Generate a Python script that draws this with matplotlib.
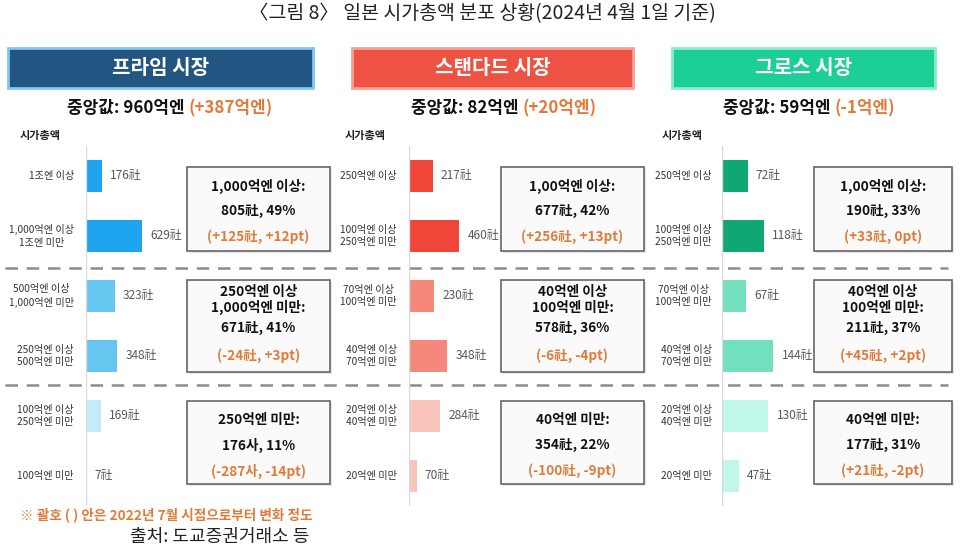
import numpy as np
import matplotlib
matplotlib.use('Agg')
import matplotlib.pyplot as plt
from matplotlib.patches import Rectangle

plt.rcParams['font.family'] = ['Noto Sans CJK KR', 'DejaVu Sans']

# ---- data ----
markets = ['프라임 시장', '스탠다드 시장', '그로스 시장']
medians = ['중앙값: 960억엔 ', '중앙값: 82억엔 ', '중앙값: 59억엔 ']
median_chg = ['(+387억엔)', '(+20억엔)', '(-1억엔)']

prime_cats = ['1조엔 이상', '1,000억엔 이상\n1조엔 미만', '500억엔 이상\n1,000억엔 미만',
              '250억엔 이상\n500억엔 미만', '100억엔 이상\n250억엔 미만', '100억엔 미만']
prime_vals = [176, 629, 323, 348, 169, 7]

std_cats = ['250억엔 이상', '100억엔 이상\n250억엔 미만', '70억엔 이상\n100억엔 미만',
            '40억엔 이상\n70억엔 미만', '20억엔 이상\n40억엔 미만', '20억엔 미만']
std_vals = [217, 460, 230, 348, 284, 70]

growth_cats = ['250억엔 이상', '100억엔 이상\n250억엔 미만', '70억엔 이상\n100억엔 미만',
               '40억엔 이상\n70억엔 미만', '20억엔 이상\n40억엔 미만', '20억엔 미만']
growth_vals = [72, 118, 67, 144, 130, 47]

prime_boxes = [('1,000억엔 이상:', '805社, 49%', '(+125社, +12pt)'),
               ('250억엔 이상\n1,000억엔 미만:', '671社, 41%', '(-24社, +3pt)'),
               ('250억엔 미만:', '176사, 11%', '(-287사, -14pt)')]
std_boxes = [('1,00억엔 이상:', '677社, 42%', '(+256社, +13pt)'),
             ('40억엔 이상\n100억엔 미만:', '578社, 36%', '(-6社, -4pt)'),
             ('40억엔 미만:', '354社, 22%', '(-100社, -9pt)')]
growth_boxes = [('1,00억엔 이상:', '190社, 33%', '(+33社, 0pt)'),
                ('40억엔 이상\n100억엔 미만:', '211社, 37%', '(+45社, +2pt)'),
                ('40억엔 미만:', '177社, 31%', '(+21社, -2pt)')]

W, H = 964, 549
ORANGE = '#E07B39'

fig = plt.figure(figsize=(W / 100, H / 100), dpi=100)
bg = fig.add_axes([0, 0, 1, 1])
bg.set_xlim(0, W)
bg.set_ylim(H, 0)
bg.axis('off')


def px_axes(x0, y0, x1, y1):
    return fig.add_axes([x0 / W, 1 - y1 / H, (x1 - x0) / W, (y1 - y0) / H])


bg.text(482, 14, '〈그림 8〉 일본 시가총액 분포 상황(2024년 4월 1일 기준)', ha='center', va='center',
        fontsize=14, color='#222222')

# panel layout (pixels)
panels = [
    dict(head=(8, 313), head_col='#225581', edge='#7EC8F0', cats=prime_cats, vals=prime_vals,
         bx=86, xmax=1010, lab_x=74, col=['#1EA3EE', '#66C6F0', '#C4EBFA'], boxes=prime_boxes,
         box=(187, 330), sx=20, mx=67),
    dict(head=(352, 633), head_col='#EE5242', edge='#F6A097', cats=std_cats, vals=std_vals,
         bx=409, xmax=827, lab_x=397, col=['#F0463A', '#F4887B', '#F8C4BC'], boxes=std_boxes,
         box=(501, 644), sx=345, mx=411),
    dict(head=(672, 935), head_col='#1BCF97', edge='#8EEBCB', cats=growth_cats, vals=growth_vals,
         bx=722, xmax=253, lab_x=712, col=['#10A774', '#72DFBF', '#C0F7E8'], boxes=growth_boxes,
         box=(814, 952), sx=662, mx=723),
]

box_y = [(167, 251), (280, 372), (401, 484)]

for i, p in enumerate(panels):
    h0, h1 = p['head']
    bg.add_patch(Rectangle((h0, 48), h1 - h0, 40, facecolor=p['head_col'], edgecolor=p['edge'], lw=2))
    bg.text((h0 + h1) / 2, 68, markets[i], ha='center', va='center', fontsize=14.5,
            fontweight='bold', color='white')
    # median line
    t = bg.text(p['mx'], 108, medians[i], ha='left', va='center', fontsize=12.2,
                fontweight='bold', color='#111111')
    bg.annotate(median_chg[i], xycoords=t, xy=(1, 0.5), va='center', ha='left', fontsize=12.2,
                fontweight='bold', color=ORANGE)
    bg.text(p['sx'], 135, '시가총액', ha='left', va='center', fontsize=8, fontweight='bold',
            color='#222222')

    # bars
    ax = px_axes(p['bx'], 146, p['bx'] + 90, 506)
    y = np.arange(6)
    colors = [p['col'][k // 2] for k in range(6)]
    ax.barh(y, p['vals'], height=0.52, color=colors)
    ax.set_xlim(0, p['xmax'])
    ax.set_ylim(5.5, -0.5)
    ax.axis('off')
    ax.axvline(0, color='#D9D9D9', lw=1)
    for k in range(6):
        ax.annotate(f'{p["vals"][k]}社', xy=(p['vals'][k], y[k]), xytext=(6, 0),
                    textcoords='offset points', va='center', ha='left', fontsize=8.6,
                    color='#595959', annotation_clip=False)
    for k in range(6):
        yc = 176 + 60 * k
        bg.text(p['lab_x'], yc, p['cats'][k], ha='right', va='center', fontsize=7.3,
                color='#333333', multialignment='center', linespacing=1.35)

    # info boxes
    bx0, bx1 = p['box']
    for j, (b_title, b_val, b_chg) in enumerate(p['boxes']):
        y0, y1 = box_y[j]
        bg.add_patch(Rectangle((bx0 + 2, y0 + 2), bx1 - bx0, y1 - y0, facecolor='#E6E6E6',
                               edgecolor='none'))
        bg.add_patch(Rectangle((bx0, y0), bx1 - bx0, y1 - y0, facecolor='#FAFAFA',
                               edgecolor='#666666', lw=1.2))
        cx = (bx0 + bx1) / 2
        if '\n' in b_title:
            ys = [y0 + 20, y0 + 48, y0 + 76]
        else:
            ys = [y0 + 19, y0 + 44, y0 + 70]
        bg.text(cx, ys[0], b_title, ha='center', va='center', fontsize=9.8, fontweight='bold',
                color='#111111', linespacing=1.15)
        bg.text(cx, ys[1], b_val, ha='center', va='center', fontsize=9.8, fontweight='bold',
                color='#111111')
        bg.text(cx, ys[2], b_chg, ha='center', va='center', fontsize=9.8, fontweight='bold',
                color=ORANGE)

# dashed separators
for yy in (268, 385):
    bg.plot([5, 948], [yy, yy], color='#8C8C8C', lw=1.8, dashes=(5, 3.5))

bg.text(20, 515, '※ 괄호 ( ) 안은 2022년 7월 시점으로부터 변화 정도', ha='left', va='center',
        fontsize=9.8, fontweight='bold', color=ORANGE)
bg.text(130, 537, '출처: 도교증권거래소 등', ha='left', va='center', fontsize=13, color='#222222')

fig.savefig('out.png', dpi=100)
